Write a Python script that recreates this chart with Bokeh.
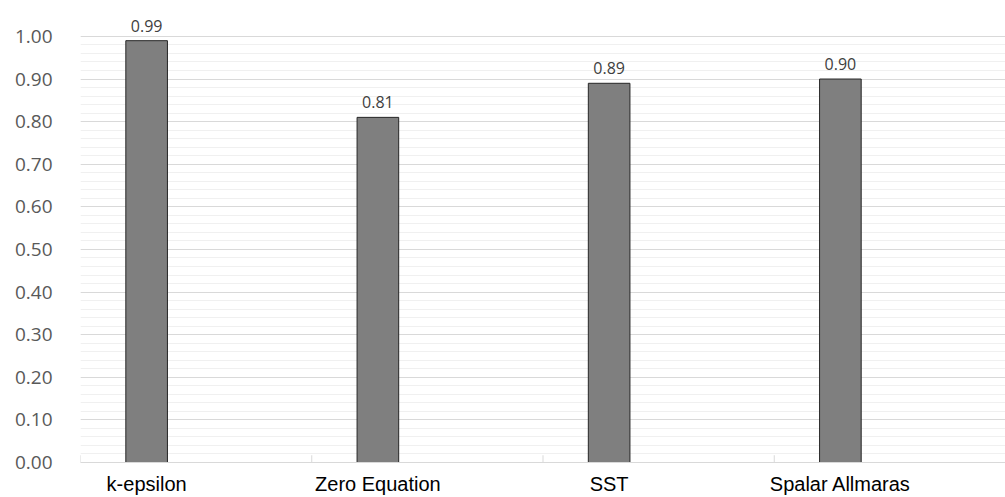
from bokeh.plotting import figure
from bokeh.models import FixedTicker, Range1d, ColumnDataSource, LabelSet, NumeralTickFormatter
from bokeh.core.properties import value
from bokeh.embed import file_html
from bokeh.resources import INLINE

# Model accuracy per turbulence model
categories = ["k-epsilon", "Zero Equation", "SST", "Spalar Allmaras"]
values = [0.99, 0.81, 0.89, 0.90]
y_ticks = [0.0, 0.1, 0.2, 0.3, 0.4, 0.5, 0.6, 0.7, 0.8, 0.9, 1.0]

n = len(categories)
bar_offset = 0.286
bar_width = 0.18
xs = [i + bar_offset for i in range(n)]

src = ColumnDataSource(dict(
    x=xs, top=values, cat=categories,
    lbl=[f"{v:.2f}" for v in values],
))

p = figure(width=1005, height=497, output_backend="svg", toolbar_location=None,
           x_range=Range1d(0, n), y_range=Range1d(0, 1.0843),
           min_border_left=80, min_border_right=0, min_border_top=0,
           min_border_bottom=34)
p.outline_line_color = None
p.background_fill_color = "white"
p.border_fill_color = "white"

# gridlines: major every 0.1, minor every 0.02
minor = [round(i * 0.02, 2) for i in range(51)]
p.yaxis.ticker = FixedTicker(ticks=y_ticks, minor_ticks=minor)
p.ygrid.grid_line_color = "#d9d9d9"
p.ygrid.grid_line_width = 1
p.ygrid.minor_grid_line_color = "#f0f0f0"
p.ygrid.minor_grid_line_width = 1
p.xgrid.grid_line_color = None

p.yaxis.axis_line_color = None
p.yaxis.major_tick_line_color = None
p.yaxis.minor_tick_line_color = None
p.yaxis.formatter = NumeralTickFormatter(format="0.00")
p.yaxis.major_label_text_font = "Open Sans"
p.yaxis.major_label_text_font_size = "19px"
p.yaxis.major_label_text_color = "#595959"
p.yaxis.major_label_standoff = 22

p.xaxis.ticker = FixedTicker(ticks=xs)
p.xaxis.major_label_overrides = {x: c for x, c in zip(xs, categories)}
p.xaxis.axis_line_color = "#d9d9d9"
p.xaxis.axis_line_width = 1
p.xaxis.major_tick_line_color = None
p.xaxis.minor_tick_line_color = None
p.xaxis.major_label_text_font = "Liberation Sans"
p.xaxis.major_label_text_font_size = "20px"
p.xaxis.major_label_text_color = "#000000"
p.xaxis.major_label_standoff = 4

# category divider ticks on the axis
p.segment(x0=list(range(n + 1)), y0=[0] * (n + 1), x1=list(range(n + 1)),
          y1=[0.017] * (n + 1), line_color="#d9d9d9", line_width=1)

p.vbar(x="x", top="top", width=bar_width, source=src,
       fill_color="#7f7f7f", line_color="#262626", line_width=1)

labels = LabelSet(x="x", y="top", text="lbl", source=src,
                  text_align="center", text_baseline="bottom", y_offset=9,
                  text_font=value("Open Sans"), text_font_size=value("16px"),
                  text_color="#404040")
p.add_layout(labels)

open("out.html", "w").write(file_html(p, INLINE))
